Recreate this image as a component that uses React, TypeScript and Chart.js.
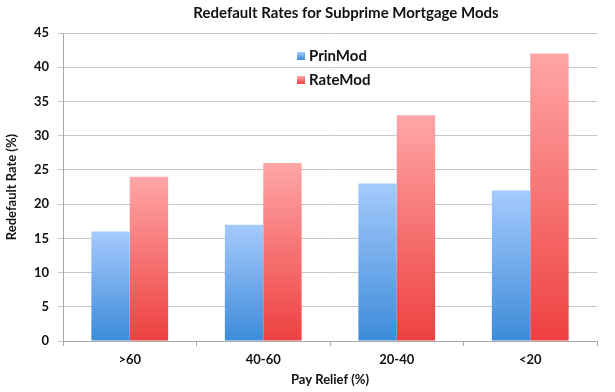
import React, { useEffect, useRef } from "react";
import { Chart, registerables } from "chart.js";

Chart.register(...registerables);

const categories = [">60", "40-60", "20-40", "<20"];
const prinMod = [16, 17, 23, 22];
const rateMod = [24, 26, 33, 42];
const chartTitle = "Redefault Rates for Subprime Mortgage Mods";
const yTitle = "Redefault Rate (%)";
const xTitle = "Pay Relief (%)";

const FONT = "Lato, 'Open Sans', sans-serif";

const palettes = [
  { top: "#a6cafd", bottom: "#3d8bd9" },
  { top: "#ffa6a6", bottom: "#ee4040" },
];

function gradientFill(pal: { top: string; bottom: string }) {
  return (ctx: any) => {
    const chart = ctx.chart;
    if (!chart.chartArea || ctx.raw == null) return pal.bottom;
    const y = chart.scales.y;
    const top = y.getPixelForValue(ctx.raw);
    const bottom = y.getPixelForValue(0);
    if (!isFinite(top) || !isFinite(bottom) || top === bottom) return pal.bottom;
    const g = chart.ctx.createLinearGradient(0, top, 0, bottom);
    g.addColorStop(0, pal.top);
    g.addColorStop(1, pal.bottom);
    return g;
  };
}

const titleLegendPlugin = {
  id: "titleLegend",
  afterDraw(chart: any) {
    const c = chart.ctx;
    c.save();
    c.fillStyle = "#111";
    c.font = `bold 15px ${FONT}`;
    c.textAlign = "center";
    c.textBaseline = "middle";
    c.fillText(chartTitle, 346, 13);

    const ds = chart.data.datasets;
    const items = [
      { y: 56, pal: palettes[0], label: ds[0].label },
      { y: 80, pal: palettes[1], label: ds[1].label },
    ];
    items.forEach((it) => {
      const g = c.createLinearGradient(0, it.y - 4, 0, it.y + 4);
      g.addColorStop(0, it.pal.top);
      g.addColorStop(1, it.pal.bottom);
      c.fillStyle = g;
      c.fillRect(297, it.y - 4, 8, 8);
      c.fillStyle = "#111";
      c.font = `bold 15px ${FONT}`;
      c.textAlign = "left";
      c.textBaseline = "middle";
      c.fillText(it.label, 309, it.y);
    });
    c.restore();
  },
};

export default function App() {
  const ref = useRef<HTMLCanvasElement | null>(null);
  useEffect(() => {
    if (!ref.current) return;
    const chart = new Chart(ref.current, {
      type: "bar",
      data: {
        labels: categories,
        datasets: [
          {
            label: "PrinMod",
            data: prinMod,
            backgroundColor: gradientFill(palettes[0]),
            borderWidth: 0,
            barPercentage: 1,
            categoryPercentage: 0.575,
          },
          {
            label: "RateMod",
            data: rateMod,
            backgroundColor: gradientFill(palettes[1]),
            borderWidth: 0,
            barPercentage: 1,
            categoryPercentage: 0.575,
          },
        ],
      },
      options: {
        animation: false,
        responsive: false,
        maintainAspectRatio: false,
        layout: { padding: { top: 33, right: 18, bottom: 0, left: 0 } },
        plugins: {
          legend: { display: false },
          title: { display: false },
          tooltip: { enabled: false },
        },
        scales: {
          x: {
            afterFit: (s: any) => {
              s.height = 51;
            },
            grid: {
              display: true,
              drawOnChartArea: false,
              drawTicks: true,
              tickLength: 5,
              color: "#a8a8a8",
              offset: true,
            },
            border: { color: "#a8a8a8", width: 1 },
            ticks: {
              color: "#111",
              font: { family: FONT, weight: "bold", size: 13 },
              padding: 6,
            },
            title: {
              display: true,
              text: xTitle,
              color: "#111",
              font: { family: FONT, weight: "bold", size: 13 },
              padding: { top: 0, bottom: 4 },
            },
          },
          y: {
            min: 0,
            max: 45,
            afterFit: (s: any) => {
              s.width = 63;
            },
            ticks: {
              stepSize: 5,
              color: "#111",
              font: { family: FONT, weight: "bold", size: 13 },
              padding: 9,
            },
            grid: {
              color: "#c6c6c6",
              tickLength: 5,
              lineWidth: 1,
            },
            border: { color: "#a8a8a8", width: 1 },
            title: {
              display: true,
              text: yTitle,
              color: "#111",
              font: { family: FONT, weight: "bold", size: 13 },
              padding: { top: 4, bottom: 0 },
            },
          },
        },
      },
      plugins: [titleLegendPlugin],
    });
    return () => chart.destroy();
  }, []);
  return (
    <div style={{ position: "fixed", left: 0, top: 0, width: 615, height: 392, background: "#fff" }}>
      <canvas ref={ref} width={615} height={392} style={{ width: 615, height: 392 }} />
    </div>
  );
}
